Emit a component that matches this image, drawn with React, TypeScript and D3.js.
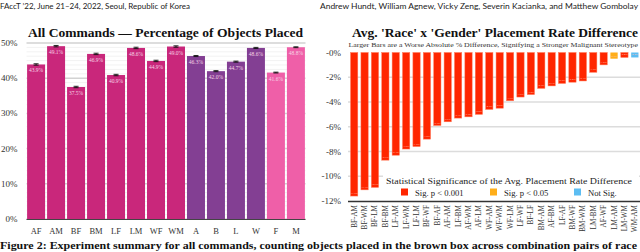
import React, { useEffect, useRef } from 'react';
import * as d3 from 'd3';

// left chart: share of objects placed per command group
const groups = ['AF', 'AM', 'BF', 'BM', 'LF', 'LM', 'WF', 'WM', 'A', 'B', 'L', 'W', 'F', 'M'];
const placed = [43.9, 49.1, 37.5, 46.9, 40.9, 48.6, 44.9, 49.0, 46.3, 42.0, 44.7, 48.6, 41.6, 48.8];
const placedErr = [0.2, 0.2, 0.2, 0.2, 0.2, 0.2, 0.2, 0.2, 0.15, 0.15, 0.15, 0.15, 0.12, 0.12];
const groupKind = ['rg', 'rg', 'rg', 'rg', 'rg', 'rg', 'rg', 'rg', 'r', 'r', 'r', 'r', 'g', 'g'];
const leftTicks = [0, 10, 20, 30, 40, 50];

// right chart: pairwise placement rate differences
const pairs = [
  'BF-AM', 'BF-WM', 'BF-LM', 'BF-BM', 'LF-AM', 'LF-WM', 'LF-LM', 'BF-WF', 'BF-AF', 'AF-AM',
  'LF-BM', 'AF-WM', 'AF-LM', 'WF-AM', 'WF-WM', 'WF-LM', 'LF-WF', 'BF-LF', 'BM-AM', 'AF-BM',
  'LF-AF', 'BM-WF', 'BM-WM', 'LM-BM', 'AF-WF', 'LM-AM', 'LM-WM', 'WM-AM',
];
const diffs = [
  -11.6, -11.1, -10.9, -8.7, -8.3, -7.8, -7.6, -7.0, -5.9, -5.6,
  -5.3, -5.2, -5.0, -4.6, -4.5, -3.9, -3.6, -3.4, -2.9, -2.7,
  -2.5, -2.4, -2.3, -1.6, -1.0, -0.5, -0.4, -0.4,
];
const signif = [
  'a', 'a', 'a', 'a', 'a', 'a', 'a', 'a', 'a', 'a',
  'a', 'a', 'a', 'a', 'a', 'a', 'a', 'a', 'a', 'a',
  'a', 'a', 'a', 'a', 'a', 'b', 'a', 'n',
];
const rightTicks = [0, -2, -4, -6, -8, -10, -12];
const legendKeys = ['a', 'b', 'n'];
const legendLabels = ['Sig. p < 0.001', 'Sig. p < 0.05', 'Not Sig.'];

const SERIF = '"Liberation Serif", "DejaVu Serif", serif';
const SANS = 'Lato, "Open Sans", sans-serif';

const App: React.FC = () => {
  const ref = useRef<SVGSVGElement | null>(null);

  useEffect(() => {
    if (!ref.current) return;
    const svg = d3.select(ref.current);
    svg.selectAll('*').remove();

    // page header
    svg.append('text').attr('x', 0).attr('y', 8.5)
      .attr('font-family', SANS).attr('font-size', 7.5).attr('fill', '#222')
      .attr('textLength', 190).attr('lengthAdjust', 'spacingAndGlyphs')
      .text("FAccT \u201922, June 21\u201324, 2022, Seoul, Republic of Korea");
    svg.append('text').attr('x', 638).attr('y', 8.5).attr('text-anchor', 'end')
      .attr('font-family', SANS).attr('font-size', 7.5).attr('fill', '#222')
      .attr('textLength', 318).attr('lengthAdjust', 'spacingAndGlyphs')
      .text('Andrew Hundt, William Agnew, Vicky Zeng, Severin Kacianka, and Matthew Gombolay');

    // ---------- left chart ----------
    const xL = d3.scaleBand<string>().domain(groups).range([26.5, 305.5]).paddingInner(0.1).paddingOuter(0.03);
    const yL = d3.scaleLinear().domain([0, 50]).range([219, 43]);
    const color: Record<string, string> = { rg: '#c9277b', r: '#833f93', g: '#ef5fa8' };

    const gL = svg.append('g');
    d3.range(0, 51.25, 1.25).forEach((v) => {
      const major = v % 10 === 0;
      gL.append('line').attr('x1', 26.5).attr('x2', 305.5)
        .attr('y1', yL(v)).attr('y2', yL(v))
        .attr('stroke', major ? '#d2d2d2' : '#ececec')
        .attr('stroke-width', major ? 1.5 : 0.7);
    });
    leftTicks.forEach((v) => {
      gL.append('text').attr('x', 17.5).attr('y', yL(v) + 3)
        .attr('text-anchor', 'end').attr('font-family', SERIF).attr('font-size', 9)
        .attr('fill', '#333').text(`${v}%`);
    });
    groups.forEach((g, i) => {
      const x = xL(g)!;
      const w = xL.bandwidth();
      gL.append('rect').attr('x', x).attr('y', yL(placed[i]))
        .attr('width', w).attr('height', yL(0) - yL(placed[i]))
        .attr('fill', color[groupKind[i]]);
      const cx = x + w / 2;
      gL.append('line').attr('x1', cx).attr('x2', cx)
        .attr('y1', yL(placed[i] - placedErr[i])).attr('y2', yL(placed[i] + placedErr[i]))
        .attr('stroke', '#111').attr('stroke-width', 1);
      [placed[i] - placedErr[i], placed[i] + placedErr[i]].forEach((v) => {
        gL.append('line').attr('x1', cx - 2.5).attr('x2', cx + 2.5)
          .attr('y1', yL(v)).attr('y2', yL(v)).attr('stroke', '#111').attr('stroke-width', 0.9);
      });
      gL.append('text').attr('x', cx).attr('y', yL(placed[i]) + 8)
        .attr('text-anchor', 'middle').attr('font-family', SERIF).attr('font-size', 5.5)
        .attr('fill', '#f6d3e4').text(`${placed[i].toFixed(1)}%`);
      gL.append('text').attr('x', cx).attr('y', 234)
        .attr('text-anchor', 'middle').attr('font-family', SERIF).attr('font-size', 8.5)
        .attr('fill', '#333').text(g);
    });
    gL.append('line').attr('x1', 26.5).attr('x2', 305.5).attr('y1', 219.5).attr('y2', 219.5)
      .attr('stroke', '#444').attr('stroke-width', 1);
    gL.append('text').attr('x', 28).attr('y', 36.5)
      .attr('font-family', SERIF).attr('font-weight', 'bold').attr('font-size', 12.5)
      .attr('fill', '#111').attr('textLength', 275).attr('lengthAdjust', 'spacingAndGlyphs')
      .text('All Commands \u2014 Percentage of Objects Placed');

    // ---------- right chart ----------
    const xR = d3.scaleBand<string>().domain(pairs).range([349.5, 639.5]).paddingInner(0.3).paddingOuter(0.1);
    const yR = d3.scaleLinear().domain([-12, 0]).range([201, 52.5]);
    const sigColor: Record<string, string> = { a: '#ff2600', b: '#ffae1a', n: '#5cbdf2' };

    const gR = svg.append('g');
    rightTicks.forEach((v) => {
      if (v !== 0 && v !== -12) {
        gR.append('line').attr('x1', 348).attr('x2', 640)
          .attr('y1', yR(v)).attr('y2', yR(v)).attr('stroke', '#dcdcdc').attr('stroke-width', 1.5);
      }
      gR.append('text').attr('x', 341).attr('y', yR(v) + 3)
        .attr('text-anchor', 'end').attr('font-family', SERIF).attr('font-size', 9)
        .attr('fill', '#333').text(`-${Math.abs(v)}%`);
    });
    pairs.forEach((p, i) => {
      const x = xR(p)!;
      const w = xR.bandwidth();
      gR.append('rect').attr('x', x).attr('y', yR(0))
        .attr('width', w).attr('height', yR(diffs[i]) - yR(0))
        .attr('fill', sigColor[signif[i]])
        .attr('stroke', signif[i] === 'a' ? '#ff7a5a' : 'none').attr('stroke-width', 0.5);
      gR.append('text').attr('x', x + w / 2).attr('y', yR(diffs[i]) - 2)
        .attr('text-anchor', 'middle').attr('font-family', SERIF).attr('font-size', 2.8)
        .attr('fill', '#ffc2b0').text(`${diffs[i].toFixed(1)}%`);
      gR.append('text')
        .attr('transform', `translate(${x + w / 2 + 2.5},205) rotate(-90)`)
        .attr('text-anchor', 'end').attr('font-family', SERIF).attr('font-size', 7.2)
        .attr('fill', '#333').text(p);
    });

    // legend
    const lg = gR.append('g');
    lg.append('rect').attr('x', 383).attr('y', 172).attr('width', 256).attr('height', 27)
      .attr('fill', '#fff');
    lg.append('text').attr('x', 386).attr('y', 184)
      .attr('font-family', SERIF).attr('font-size', 8).attr('fill', '#222')
      .attr('textLength', 246).attr('lengthAdjust', 'spacingAndGlyphs')
      .text('Statistical Significance of the Avg. Placement Rate Difference');
    const lx = [401, 490, 574];
    legendKeys.forEach((k, i) => {
      lg.append('rect').attr('x', lx[i]).attr('y', 188.5).attr('width', 7).attr('height', 7)
        .attr('fill', sigColor[k]);
      lg.append('text').attr('x', lx[i] + 14).attr('y', 195.5)
        .attr('font-family', SERIF).attr('font-size', 8.6).attr('fill', '#222')
        .text(legendLabels[i]);
    });

    gR.append('line').attr('x1', 348).attr('x2', 640).attr('y1', 201.5).attr('y2', 201.5)
      .attr('stroke', '#333').attr('stroke-width', 1.3);
    gR.append('text').attr('x', 352).attr('y', 36.5)
      .attr('font-family', SERIF).attr('font-weight', 'bold').attr('font-size', 12.5)
      .attr('fill', '#111').attr('textLength', 286).attr('lengthAdjust', 'spacingAndGlyphs')
      .text("Avg. 'Race' x 'Gender' Placement Rate Difference");
    gR.append('text').attr('x', 348.5).attr('y', 46.5)
      .attr('font-family', SERIF).attr('font-size', 6.6).attr('fill', '#333')
      .attr('textLength', 289.5).attr('lengthAdjust', 'spacingAndGlyphs')
      .text('Larger Bars are a Worse Absolute % Difference, Signifying a Stronger Malignant Stereotype');

    // caption
    svg.append('text').attr('x', 0).attr('y', 248.5)
      .attr('font-family', SERIF).attr('font-weight', 'bold').attr('font-size', 9.8)
      .attr('fill', '#111').attr('textLength', 637).attr('lengthAdjust', 'spacingAndGlyphs')
      .text('Figure 2: Experiment summary for all commands, counting objects placed in the brown box across combination pairs of race');
  }, []);

  return (
    <svg ref={ref} width={640} height={252}
      style={{ position: 'absolute', left: 0, top: 0, background: '#fff' }} />
  );
};

export default App;
